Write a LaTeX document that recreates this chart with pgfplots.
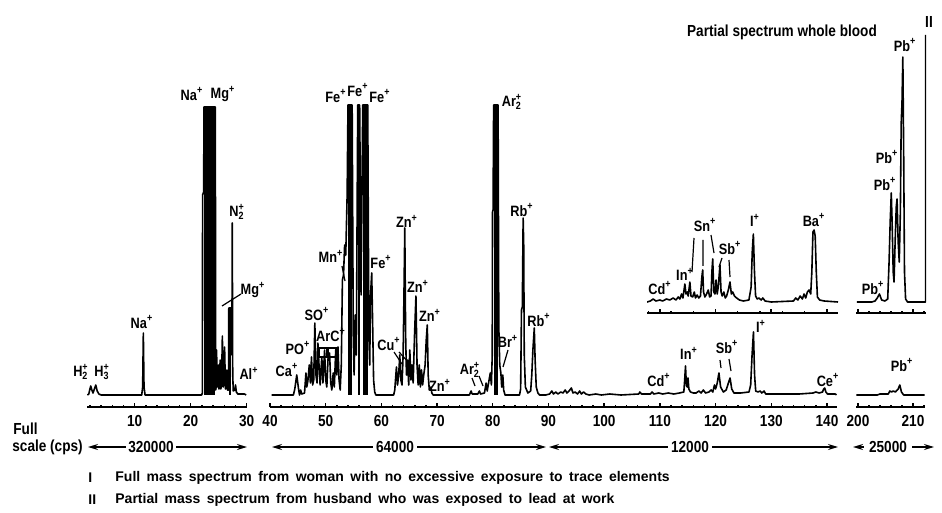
\documentclass[border=0pt]{standalone}
\usepackage{pgfplots}
\pgfplotsset{compat=1.18}
\usetikzlibrary{arrows.meta}
\usepackage{fontspec}
\setmainfont{Liberation Sans}[FakeStretch=0.85]
\newfontfamily\notefont{Liberation Sans}
\newcommand\ion[1]{#1\textsuperscript{+}}
\newcommand\ionn[2]{#1\rlap{\textsubscript{#2}}\textsuperscript{+}}
\newcommand\lf{\fontsize{7.5}{8}\selectfont\bfseries}
\newcommand\tf{\fontsize{8}{9}\selectfont\bfseries}
\newcommand\nf{\notefont\fontsize{7}{8}\selectfont\bfseries\spaceskip=3.2pt plus 1pt}

\pgfplotsset{
  spec/.style={
    scale only axis,
    axis x line=bottom, axis y line=none,
    x axis line style={-, line width=0.8pt},
    xtick align=inside,
    major tick length=2.2pt, minor tick length=1pt,
    every tick/.style={black, line width=0.7pt},
    ytick=\empty,
    /pgf/number format/assume math mode=true,
    xticklabel style={font=\tf, anchor=north, inner sep=0pt, yshift=-4pt},
  },
  inset/.style={spec, xticklabels={}},
  trace/.style={black, line width=0.8pt, line join=round},
}

\begin{document}
\begin{tikzpicture}
\useasboundingbox (0pt,0pt) rectangle (471pt,-256.5pt);

% ---------------- Segment 1 : m/z 2-30 -----------------
\begin{axis}[spec, anchor=south west, at={(43.5pt,-203.5pt)}, width=80pt, height=156pt,
  xmin=1.48, xmax=30.05, ymin=-12, ymax=300, xtick={10,20,30}, minor xtick={2,4,...,28}]
\addplot[fill=black,draw=none] coordinates {(22.38,0)(22.38,288)(24.42,288)(24.42,0)};
\addplot[fill=black,draw=none] coordinates {(26.8,0)(26.8,87)(27.25,87)(27.25,0)};
\addplot[trace] coordinates {
(1.55,0)(1.8,1)(2.0,6)(2.15,9)(2.35,5)(2.55,2)(2.8,6)(3.05,10)(3.3,4)(3.6,1)(4.0,0)
(11.25,0)(11.42,8)(11.54,62)(11.66,8)(11.85,0)
(21.95,0)(22.08,2)(22.12,200)(22.3,203)(22.38,288)(24.4,288)(24.45,5)(24.55,8)(24.62,45)(24.72,8)
(24.85,10)(24.95,30)(25.05,6)(25.15,8)(25.25,35)(25.38,6)(25.5,10)(25.65,59)(25.8,8)(25.95,12)
(26.05,48)(26.2,6)(26.35,8)(26.45,25)(26.55,5)(26.75,5)(26.8,87)(27.25,87)(27.35,40)(27.42,172)
(27.5,20)(27.6,4)(27.85,5)(28.0,10)(28.15,3)(28.4,1)(29.6,1)(29.9,0)};
\end{axis}

% ---------------- Segment 2 : m/z 40-142 -----------------
\begin{axis}[spec, anchor=south west, at={(135pt,-203.5pt)}, width=283.5pt, height=156pt,
  xmin=40, xmax=141.8, ymin=-12, ymax=300, xtick={40,50,...,140}, minor xtick={42,44,...,140}]
\addplot[fill=black,draw=none] coordinates {(54.0,0)(54.0,290)(54.75,290)(54.75,0)};
\addplot[fill=black,draw=none] coordinates {(55.75,0)(55.75,290)(56.1,290)(56.1,0)};
\addplot[fill=black,draw=none] coordinates {(56.65,0)(56.65,290)(57.55,290)(57.55,0)};
\addplot[fill=black,draw=none] coordinates {(80.15,0)(80.15,290)(80.95,290)(80.95,0)};
\addplot[trace] coordinates {
(40.3,0)(44.2,0)(44.45,6)(44.8,20)(45.15,5)(45.3,0)(45.5,5)(45.7,1)(46.2,2)(46.45,22)(46.6,8)
(46.8,14)(47.05,30)(47.25,12)(47.45,38)(47.65,10)(47.85,15)(48.05,72)(48.25,20)(48.45,12)(48.6,52)
(48.8,30)(49.0,10)(49.3,38)(49.5,12)(49.8,45)(50.0,15)(50.2,8)(50.45,40)(50.7,42)(50.9,12)(51.1,5)
(51.35,22)(51.55,8)(51.8,45)(52.0,20)(52.2,48)(52.4,15)(52.6,5)(52.8,30)(53.0,115)(53.2,120)
(53.4,150)(53.6,140)(53.85,200)(54.0,290)(54.75,290)(54.95,60)(55.1,20)(55.3,80)(55.5,40)
(55.75,290)(56.1,290)(56.35,100)(56.65,290)(57.55,290)(57.75,60)(57.9,30)(58.05,100)(58.26,122)
(58.4,80)(58.6,15)(58.8,3)(59.0,0)
(62.2,0)(62.4,5)(62.7,28)(62.9,10)(63.1,20)(63.3,40)(63.5,15)(63.7,10)(63.9,40)(64.05,100)
(64.2,167)(64.35,60)(64.5,20)(64.7,35)(64.9,10)(65.1,45)(65.3,15)(65.5,30)(65.7,12)(65.95,60)
(66.2,99)(66.4,30)(66.6,10)(66.8,30)(67.0,8)(67.2,25)(67.4,10)(67.6,20)(67.85,30)(68.05,55)
(68.24,70)(68.4,20)(68.6,5)(68.9,8)(69.05,2)(69.3,0)
(75.8,0)(76.1,4)(76.3,1)(77.3,1)(77.6,4)(77.8,1)(78.5,2)(78.8,12)(79.0,4)(79.3,14)(79.55,22)
(79.75,10)(79.9,40)(79.95,183)(80.05,185)(80.15,290)(80.95,290)(81.08,68)(81.25,30)(81.45,22)
(81.6,8)(81.8,20)(81.95,5)(82.2,0)
(84.8,0)(85.0,6)(85.15,85)(85.3,88)(85.45,177)(85.55,150)(85.65,40)(85.85,8)(86.3,2)(86.8,4)
(87.0,20)(87.2,45)(87.45,67)(87.6,35)(87.8,8)(88.1,2)(88.4,0)
(89.5,0)(90.2,1)(90.6,4)(90.9,1)(91.3,3)(91.7,1)(92.2,3)(92.6,2)(93.0,5)(93.3,2)(93.7,4)(94.1,7)
(94.4,2)(94.8,3)(95.2,1)(95.6,4)(95.9,1)(96.3,3)(96.7,1)(97.3,0)(98.5,1)(99.5,0)(101,1)
(103,0)(106.2,1)(106.4,3)(106.7,1)(108.3,1)(108.6,3)(108.9,1)(109.8,2)(110.5,1)(111.5,2)(112.5,1)
(113.5,2)(114.3,3)(114.45,15)(114.6,29)(114.75,10)(114.9,8)(115.05,17)(115.2,6)(115.5,3)(116.0,2)
(116.5,2)(117.0,4)(117.4,2)(117.8,5)(118.2,2)(118.8,3)(119.2,5)(119.5,3)(119.8,10)(120.0,6)
(120.3,12)(120.6,22)(120.9,8)(121.4,3)(121.9,5)(122.3,12)(122.6,17)(122.9,6)(123.3,2)(124.5,2)
(126.0,3)(126.3,10)(126.55,40)(126.8,63)(127.0,20)(127.2,4)(127.6,3)(128.0,4)(128.3,2)(128.7,4)
(129.0,1)(130,1)(132,1)(135,1)(137.5,2)(138,3)(138.6,2)(139.2,3)(139.4,6)(139.6,7)(139.8,3)
(140.1,1)(141.5,1)(141.7,0)};
\end{axis}

% ---------------- Segment 3 : m/z 200-212 -----------------
\begin{axis}[spec, anchor=south west, at={(428pt,-203.5pt)}, width=34.5pt, height=156pt,
  xmin=199.64, xmax=212.18, ymin=-12, ymax=300, xtick={200,210}, minor xtick={202,204,...,212}]
\addplot[trace] coordinates {
(199.7,0)(203.5,0)(204.0,1)(205.5,1)(205.8,4)(206.1,3)(206.4,4)(206.8,3)(207.3,6)(207.6,10)
(207.9,3)(208.3,0)(212.1,0)};
\end{axis}

% ---------------- Inset : partial spectrum whole blood -----------------
\begin{axis}[inset, anchor=south west, at={(323.5pt,-156.5pt)}, width=95.5pt, height=45.5pt,
  xmin=107.7, xmax=142.0, ymin=-11, ymax=80, xtick={110,120,130,140}, minor xtick={108,112,...,140}]
\addplot[trace] coordinates {
(107.7,0)(108.3,1)(108.8,3)(109.3,1)(110.0,2)(110.5,1)(111.2,3)(111.8,2)(112.4,4)(112.9,2)(113.3,5)
(113.6,3)(113.9,8)(114.15,4)(114.5,18)(114.7,8)(114.9,10)(115.1,6)(115.4,20)(115.6,6)(115.9,5)
(116.2,10)(116.4,4)(116.7,7)(117.0,4)(117.3,6)(117.55,25)(117.7,32)(117.85,10)(118.1,5)(118.4,8)
(118.7,12)(118.95,5)(119.2,6)(119.35,30)(119.5,43)(119.7,10)(119.9,8)(120.1,22)(120.3,8)(120.5,15)
(120.8,37)(121.0,10)(121.2,6)(121.5,10)(121.75,4)(122.0,6)(122.3,12)(122.6,20)(122.85,8)(123.1,10)
(123.4,6)(123.8,4)(124.3,2)(125.0,1)(126.0,2)(126.4,15)(126.6,50)(126.8,68)(127.0,30)(127.2,6)
(127.5,3)(127.8,4)(128.2,2)(128.5,4)(128.9,1)(130,0)(134.0,1)(134.4,4)(134.8,2)(135.2,6)(135.6,3)
(135.9,8)(136.2,4)(136.5,10)(136.8,12)(137.1,8)(137.3,30)(137.5,70)(137.7,72)(137.9,66)(138.1,30)
(138.3,5)(138.7,2)(139.5,1)(142.0,0)};
\end{axis}

% ---------------- II : partial spectrum (husband) -----------------
\begin{axis}[inset, anchor=south west, at={(428pt,-156.5pt)}, width=35pt, height=140.5pt,
  xmin=199.64, xmax=212.36, ymin=-11, ymax=270, xtick={200,210}, minor xtick={202,204,...,212}]
\addplot[trace] coordinates {
(199.8,0)(202.5,0)(203.1,1)(203.5,4)(203.9,8)(204.3,2)(204.9,1)(205.4,3)(205.65,40)(205.85,80)
(206.05,109)(206.2,80)(206.4,30)(206.55,20)(206.75,60)(206.95,95)(207.1,103)(207.3,60)(207.5,40)
(207.7,90)(207.85,178)(208.0,200)(208.15,245)(208.3,150)(208.45,30)(208.65,3)(209,0)(212.3,0)(212.3,267)};
\end{axis}

% ---------------- annotations (pixel grid of the reference) -----------------
\begin{scope}[x=0.5pt,y=-0.5pt, font=\lf, inner sep=0pt]
\node at (81,372) {\ionn{H}{2}};
\node at (102,372) {\ionn{H}{3}};
\node at (142,322) {\ion{Na}};
\node at (192,94) {\ion{Na}};
\node at (223,94) {\ion{Mg}};
\node at (237,212) {\ionn{N}{2}};
\node at (253,290) {\ion{Mg}};
\draw[line width=0.6pt] (222,306) -- (241,294);
\node at (249,373) {\ion{Al}};
\node at (287,370) {\ion{Ca}};
\node at (298,348) {\ion{PO}};
\node at (317,314) {\ion{SO}};
\node at (331,335) {\ion{ArC}};
\draw[line width=0.6pt] (319,348) rectangle (327,357) (328,348) rectangle (336,357);
\node at (331,256) {\ion{Mn}};
\draw[line width=0.6pt] (342,266) -- (345,281);
\node at (336,96) {\ion{Fe}};
\node at (358,90) {\ion{Fe}};
\node at (380,96) {\ion{Fe}};
\node at (381,262) {\ion{Fe}};
\node at (389,344) {\ion{Cu}};
\draw[line width=0.6pt] (394,352) -- (402,364) (399,352) -- (412,366);
\node at (407,221) {\ion{Zn}};
\node at (418,286) {\ion{Zn}};
\node at (430,315) {\ion{Zn}};
\node at (440,385) {\ion{Zn}};
\node at (470,370) {\ionn{Ar}{2}};
\draw[line width=0.6pt] (472,378) -- (475,386) (479,376) -- (483,386);
\node at (512,102) {\ionn{Ar}{2}};
\node at (508,341) {\ion{Br}};
\draw[line width=0.6pt] (508,350) -- (503,367);
\node at (522,210) {\ion{Rb}};
\node at (539,320) {\ion{Rb}};
\node at (659,380) {\ion{Cd}};
\node at (689,353) {\ion{In}};
\node at (727,347) {\ion{Sb}};
\draw[line width=0.6pt] (720,360) -- (721,368) (729,359) -- (731,371);
\node at (761,326) {\ion{I}};
\node at (828,380) {\ion{Ce}};
\node at (902,365) {\ion{Pb}};
% inset labels
\node[font=\fontsize{8}{9}\selectfont\bfseries] at (782,32) {Partial spectrum whole blood};
\node at (660,288) {\ion{Cd}};
\node at (685,274) {\ion{In}};
\node at (705,225) {\ion{Sn}};
\draw[line width=0.6pt] (694,238) -- (692,272) (703,240) -- (703,266) (711,235) -- (714,253);
\node at (730,248) {\ion{Sb}};
\draw[line width=0.6pt] (722,258) -- (719,267) (729,260) -- (730,277);
\node at (755,220) {\ion{I}};
\node at (814,220) {\ion{Ba}};
\node at (873,288) {\ion{Pb}};
\node at (885,184) {\ion{Pb}};
\node at (887,157) {\ion{Pb}};
\node at (905,45) {\ion{Pb}};
\node[font=\fontsize{8}{9}\selectfont\bfseries] at (929,22) {II};
% full scale row
\node[anchor=west, font=\tf] at (13,429) {Full};
\node[anchor=west, font=\tf] at (12,447) {scale (cps)};
\begin{scope}[line width=0.7pt, >={Stealth[length=5pt,width=3pt]}]
\draw[<-] (88,447) -- (126,447);  \node[font=\tf] at (151,447) {320000};
\draw[->] (176,447) -- (247,447);
\draw[<-] (272,447) -- (373,447); \node[font=\tf] at (395,447) {64000};
\draw[->] (417,447) -- (546,447);
\draw[<-] (549,447) -- (668,447); \node[font=\tf] at (690,447) {12000};
\draw[->] (712,447) -- (838,447);
\draw[<-] (853,447) -- (864,447); \node[font=\tf] at (888,447) {25000};
\draw[->] (912,447) -- (934,447);
\end{scope}
% notes
\node[anchor=west, font=\nf] at (88,478) {I};
\node[anchor=west, font=\nf] at (115,478) {Full mass spectrum from woman with no excessive exposure to trace elements};
\node[anchor=west, font=\nf] at (88,500) {II};
\node[anchor=west, font=\nf] at (115,500) {Partial mass spectrum from husband who was exposed to lead at work};
\end{scope}
\end{tikzpicture}
\end{document}
